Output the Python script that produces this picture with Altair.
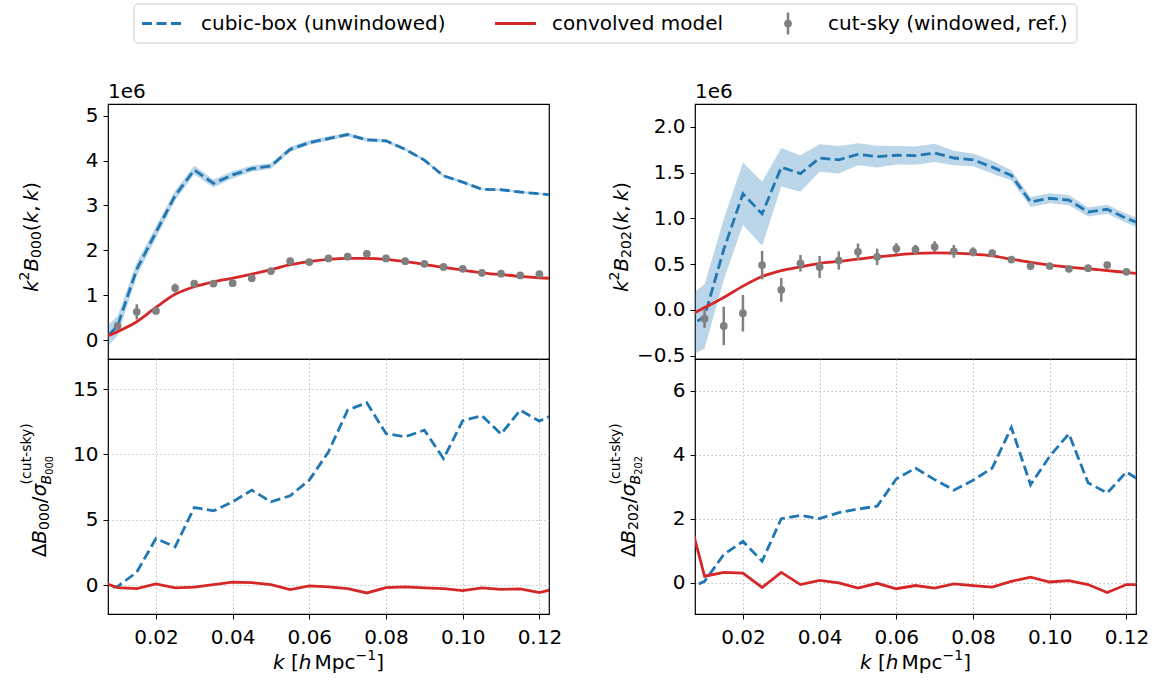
import altair as alt
import pandas as pd

FONT = "DejaVu Sans"
FS = 20
BLUE = "#1f77b4"
RED = "#d62728"
GRAY = "#808080"

# wavenumber grid of the curves (the x range is 0.0075-0.1225, so the
# first and last nodes only shape the ends of the lines)
k_line = [0.005, 0.010, 0.015, 0.020, 0.025, 0.030, 0.035, 0.040, 0.045,
          0.050, 0.055, 0.060, 0.065, 0.070, 0.075, 0.080, 0.085, 0.090,
          0.095, 0.100, 0.105, 0.110, 0.115, 0.120, 0.125]
# bins of the cut-sky reference measurement
k_pts = k_line[1:-1]

# ---- monopole B000, k^2 B in units of 1e6 ----
cubic_000 = [-0.12, 0.32, 1.58, 2.40, 3.22, 3.79, 3.49, 3.68, 3.82, 3.88,
             4.25, 4.40, 4.49, 4.58, 4.46, 4.44, 4.25, 4.01, 3.66, 3.52,
             3.36, 3.35, 3.30, 3.26, 3.22]
cubic_000_sd = [0.25, 0.22, 0.15, 0.13, 0.11, 0.10, 0.09, 0.08, 0.07, 0.06,
                0.06, 0.05, 0.05, 0.04, 0.04, 0.04, 0.03, 0.03, 0.03, 0.03,
                0.02, 0.02, 0.02, 0.02, 0.02]
model_000 = [0.01, 0.19, 0.41, 0.73, 1.02, 1.19, 1.30, 1.38, 1.47, 1.57,
             1.68, 1.75, 1.80, 1.82, 1.82, 1.80, 1.75, 1.69, 1.62, 1.56,
             1.50, 1.46, 1.42, 1.39, 1.37]
cut_000 = [0.32, 0.63, 0.65, 1.16, 1.26, 1.26, 1.27, 1.38, 1.54, 1.76, 1.74,
           1.82, 1.86, 1.92, 1.82, 1.76, 1.70, 1.63, 1.59, 1.50, 1.48, 1.44,
           1.47]
cut_000_err = [0.06, 0.17, 0.06, 0.10, 0.05, 0.05, 0.05, 0.05, 0.04, 0.04,
               0.04, 0.04, 0.03, 0.03, 0.03, 0.03, 0.03, 0.02, 0.02, 0.02,
               0.02, 0.02, 0.02]
dcubic_000 = [-0.3, -0.1, 1.0, 3.57, 2.93, 5.94, 5.69, 6.38, 7.27, 6.38,
              6.84, 8.04, 10.2, 13.4, 13.95, 11.6, 11.35, 11.86, 9.69, 12.58,
              12.96, 11.56, 13.39, 12.55, 13.25]
dmodel_000 = [0.34, -0.18, -0.26, 0.10, -0.20, -0.15, 0.05, 0.23, 0.20, 0.05,
              -0.33, -0.05, -0.13, -0.26, -0.59, -0.18, -0.13, -0.20, -0.26,
              -0.41, -0.20, -0.31, -0.28, -0.56, -0.20]

# ---- quadrupole B202, k^2 B in units of 1e6 ----
cubic_202 = [-0.21, -0.07, 0.66, 1.27, 1.05, 1.56, 1.49, 1.66, 1.64, 1.70,
             1.675, 1.69, 1.686, 1.715, 1.66, 1.64, 1.56, 1.47, 1.18, 1.22,
             1.20, 1.07, 1.10, 1.00, 0.92]
cubic_202_sd = [0.33, 0.35, 0.33, 0.34, 0.35, 0.21, 0.20, 0.15, 0.15, 0.12,
                0.12, 0.10, 0.10, 0.10, 0.08, 0.07, 0.07, 0.055, 0.055, 0.055,
                0.055, 0.05, 0.05, 0.05, 0.05]
model_202 = [-0.085, 0.026, 0.135, 0.26, 0.365, 0.43, 0.47, 0.51, 0.53, 0.555,
             0.58, 0.60, 0.617, 0.624, 0.62, 0.61, 0.59, 0.555, 0.52, 0.49,
             0.467, 0.45, 0.43, 0.41, 0.39]
cut_202 = [-0.095, -0.175, -0.036, 0.49, 0.22, 0.51, 0.47, 0.54, 0.635, 0.58,
           0.67, 0.66, 0.69, 0.64, 0.635, 0.62, 0.55, 0.48, 0.48, 0.45, 0.456,
           0.49, 0.416]
cut_202_err = [0.10, 0.21, 0.20, 0.155, 0.13, 0.09, 0.12, 0.10, 0.09, 0.09,
               0.06, 0.05, 0.06, 0.07, 0.05, 0.04, 0.03, 0.03, 0.03, 0.03,
               0.03, 0.03, 0.03]
dcubic_202 = [-0.21, 0.05, 0.89, 1.30, 0.68, 2.01, 2.11, 2.01, 2.20, 2.31,
              2.40, 3.25, 3.59, 3.23, 2.90, 3.21, 3.59, 4.86, 3.07, 3.96,
              4.66, 3.13, 2.81, 3.47, 3.09]
dmodel_202 = [2.49, 0.21, 0.33, 0.31, -0.14, 0.33, -0.05, 0.08, 0.00, -0.16,
              -0.01, -0.18, -0.08, -0.16, -0.03, -0.08, -0.13, 0.05, 0.18,
              0.03, 0.07, -0.05, -0.30, -0.05, -0.05]

x_ticks = [0.02, 0.04, 0.06, 0.08, 0.10, 0.12]
X_DOMAIN = [0.0075, 0.1225]
W, H = 441, 255
COL_GAP = 146

# DejaVu Sans advance widths (em) used to lay out the math-style titles
ADV = {" ": 0.318, "(": 0.390, ")": 0.390, ",": 0.318, "-": 0.361,
       ".": 0.318, "/": 0.337, "[": 0.390, "]": 0.390, "B": 0.686,
       "M": 0.863, "c": 0.550, "e": 0.615, "h": 0.634, "k": 0.579,
       "p": 0.635, "s": 0.521, "t": 0.392, "u": 0.634, "y": 0.592,
       "\u0394": 0.684, "\u03c3": 0.603, "\u2212": 0.838}
for d in "0123456789":
    ADV[d] = 0.636

ONE = alt.Data(values=[{}])


def text_len(s, size):
    return sum(ADV.get(c, 0.6) for c in s) * size


def piece_layers(pieces, x0, y0, vertical):
    """Place text runs one after another; shift > 0 raises a run.
    Runs made only of spaces just advance the pen."""
    out = []
    pos = 0.0
    saved = None
    longest = 0.0
    for p in pieces:
        if p[0] == "@save":
            saved = pos
            continue
        if p[0] == "@restore":
            longest = max(longest, pos)
            pos = saved
            continue
        txt, size, italic, shift = p
        if vertical:
            x, y = x0 - shift, y0 - pos
        else:
            x, y = x0 + pos, y0 - shift
        if txt.strip():
            out.append(
                alt.Chart(ONE).mark_text(
                    text=txt, font=FONT, fontSize=size,
                    fontStyle="italic" if italic else "normal",
                    align="left", baseline="alphabetic",
                    angle=270 if vertical else 0, color="black",
                ).encode(x=alt.value(x), y=alt.value(y))
            )
        pos += text_len(txt, size)
    return out, max(longest, pos)


def centred(pieces, cx, cy, vertical):
    _, total = piece_layers(pieces, 0, 0, vertical)
    if vertical:
        return piece_layers(pieces, cx, cy + total / 2, vertical)[0]
    return piece_layers(pieces, cx - total / 2, cy, vertical)[0]


def top_title(ell):
    return [("k", FS, True, 0), ("2", 14, False, 9), ("B", FS, True, 0),
            (ell, 14, False, -3), ("(", FS, False, 0), ("k", FS, True, 0),
            (",", FS, False, 0), (" ", 13, False, 0), ("k", FS, True, 0),
            (")", FS, False, 0)]


def bottom_title(ell):
    return [("\u0394", FS, False, 0), ("B", FS, True, 0), (ell, 14, False, -3),
            ("/", FS, False, 0), ("\u03c3", FS, True, 0), ("@save",),
            ("B", 14, True, -5), (ell, 9.8, False, -7), ("@restore",),
            ("(cut-sky)", 14, False, 15)]


x_title = [("k", FS, True, 0), (" ", FS, False, 0), ("[", FS, False, 0),
           ("h", FS, True, 0), (" ", 10, False, 0), ("Mpc", FS, False, 0),
           ("\u22121", 14, False, 9), ("]", FS, False, 0)]

xscale = alt.Scale(domain=X_DOMAIN, nice=False, zero=False)


def y_axis(ticks, fmt, grid):
    return alt.Axis(values=ticks, format=fmt, title=None, grid=grid,
                    gridDash=[1.5, 2.5], gridColor="#b0b0b0", gridWidth=0.8,
                    domain=False, tickSize=5, tickColor="black", tickWidth=1,
                    labelFont=FONT, labelFontSize=FS, labelColor="black",
                    labelPadding=5)


def top_panel(cubic, sd, model, cut, err, ydom, yticks, yfmt, ell, title_x):
    lines = pd.DataFrame({
        "k": k_line, "cubic": cubic, "model": model,
        "lo": [c - s for c, s in zip(cubic, sd)],
        "hi": [c + s for c, s in zip(cubic, sd)],
    })
    pts = pd.DataFrame({
        "k": k_pts, "val": cut,
        "lo": [c - e for c, e in zip(cut, err)],
        "hi": [c + e for c, e in zip(cut, err)],
    })
    ys = alt.Scale(domain=ydom, nice=False, zero=False)
    ax = y_axis(yticks, yfmt, False)
    xe = alt.X("k:Q", scale=xscale, axis=None)
    band = alt.Chart(lines).mark_area(color=BLUE, opacity=0.3, clip=True).encode(
        x=xe, y=alt.Y("lo:Q", scale=ys, axis=ax), y2="hi:Q")
    cub = alt.Chart(lines).mark_line(color=BLUE, strokeWidth=2.8,
                                     strokeDash=[10, 4.5], clip=True).encode(
        x=xe, y=alt.Y("cubic:Q", scale=ys, axis=ax))
    mod = alt.Chart(lines).mark_line(color=RED, strokeWidth=2.8,
                                     interpolate="monotone", clip=True).encode(
        x=xe, y=alt.Y("model:Q", scale=ys, axis=ax))
    bars = alt.Chart(pts).mark_rule(color=GRAY, strokeWidth=2.5, clip=True).encode(
        x=xe, y=alt.Y("lo:Q", scale=ys, axis=ax), y2="hi:Q")
    dots = alt.Chart(pts).mark_circle(color=GRAY, size=60, opacity=1,
                                      clip=True).encode(
        x=xe, y=alt.Y("val:Q", scale=ys, axis=ax))
    offset = alt.Chart(ONE).mark_text(
        text="1e6", font=FONT, fontSize=FS, align="left", baseline="alphabetic",
        color="black").encode(x=alt.value(0), y=alt.value(-6))
    layers = [band, cub, mod, bars, dots, offset]
    layers += centred(top_title(ell), title_x, 133, True)
    return layers


def bottom_panel(dcubic, dmodel, ydom, yticks, ell, title_x):
    res = pd.DataFrame({"k": k_line, "dcubic": dcubic, "dmodel": dmodel})
    ys = alt.Scale(domain=ydom, nice=False, zero=False)
    ax = y_axis(yticks, "d", True)
    xa = alt.Axis(values=x_ticks, format=".2f", title=None, grid=True,
                  gridDash=[1.5, 2.5], gridColor="#b0b0b0", gridWidth=0.8,
                  domain=False, tickSize=5, tickColor="black", tickWidth=1,
                  labelFont=FONT, labelFontSize=FS, labelColor="black",
                  labelPadding=8)
    xe = alt.X("k:Q", scale=xscale, axis=xa)
    cub = alt.Chart(res).mark_line(color=BLUE, strokeWidth=2.8,
                                   strokeDash=[10, 4.5], clip=True).encode(
        x=xe, y=alt.Y("dcubic:Q", scale=ys, axis=ax))
    mod = alt.Chart(res).mark_line(color=RED, strokeWidth=2.8, clip=True).encode(
        x=xe, y=alt.Y("dmodel:Q", scale=ys, axis=ax))
    layers = [cub, mod]
    layers += centred(bottom_title(ell), title_x, 131, True)
    layers += centred(x_title, W / 2, 310, False)
    return layers


def legend_layers():
    # legend box above both columns, positioned from the first panel's origin
    ox, oy = -107, -103
    cy = oy + 22.5
    box = alt.Chart(ONE).mark_rect(fill="white", stroke="#cccccc",
                                   strokeWidth=1, cornerRadius=4).encode(
        x=alt.value(ox + 133), x2=alt.value(ox + 1076),
        y=alt.value(oy + 3), y2=alt.value(oy + 42))
    dash = alt.Chart(ONE).mark_rule(color=BLUE, strokeWidth=2.8,
                                    strokeDash=[10, 4.5]).encode(
        x=alt.value(ox + 141), x2=alt.value(ox + 180), y=alt.value(cy))
    solid = alt.Chart(ONE).mark_rule(color=RED, strokeWidth=2.8).encode(
        x=alt.value(ox + 494), x2=alt.value(ox + 535), y=alt.value(cy))
    ebar = alt.Chart(ONE).mark_rule(color=GRAY, strokeWidth=2.5).encode(
        x=alt.value(ox + 787), y=alt.value(cy - 11), y2=alt.value(cy + 11))
    edot = alt.Chart(ONE).mark_circle(color=GRAY, size=60, opacity=1).encode(
        x=alt.value(ox + 787), y=alt.value(cy))
    out = [box, dash, solid, ebar, edot]
    for label, x in [("cubic-box (unwindowed)", 200), ("convolved model", 551),
                     ("cut-sky (windowed, ref.)", 827)]:
        out.append(alt.Chart(ONE).mark_text(
            text=label, font=FONT, fontSize=FS, align="left", baseline="middle",
            color="black").encode(x=alt.value(ox + x), y=alt.value(cy)))
    # keeps the page origin at the top-left corner
    anchor = alt.Chart(ONE).mark_rect(opacity=0).encode(
        x=alt.value(ox), x2=alt.value(ox + 1), y=alt.value(oy),
        y2=alt.value(oy + 1))
    out.append(anchor)
    return out


tl = alt.layer(*(top_panel(cubic_000, cubic_000_sd, model_000, cut_000,
                           cut_000_err, [-0.42, 5.26], [0, 1, 2, 3, 4, 5], "d",
                           "000", -70) + legend_layers())
               ).properties(width=W, height=H)
tr = alt.layer(*top_panel(cubic_202, cubic_202_sd, model_202, cut_202,
                          cut_202_err, [-0.536, 2.25],
                          [-0.5, 0.0, 0.5, 1.0, 1.5, 2.0], ".1f", "202", -67)
               ).properties(width=W, height=H)
bl = alt.layer(*bottom_panel(dcubic_000, dmodel_000, [-2.2, 17.3],
                             [0, 5, 10, 15], "000", -62)
               ).properties(width=W, height=H)
br = alt.layer(*bottom_panel(dcubic_202, dmodel_202, [-0.97, 7.0],
                             [0, 2, 4, 6], "202", -60)
               ).properties(width=W, height=H)

chart = alt.concat(
    tl, tr, bl, br, columns=2, bounds="flush",
    spacing=alt.RowColnumber(row=0, column=COL_GAP),
).properties(
    padding={"left": 0, "top": 0, "right": 2, "bottom": 2},
).configure(font=FONT).configure_view(stroke="black", strokeWidth=1.2)

chart.save("out.html", embed_options={"renderer": "svg", "actions": False})
